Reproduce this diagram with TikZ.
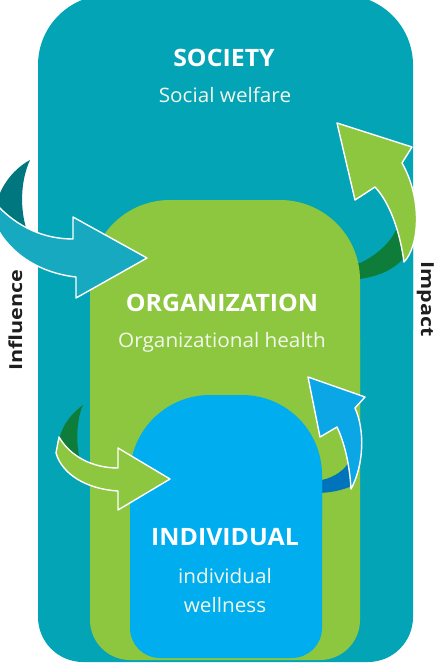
\documentclass[tikz,border=0pt]{standalone}
\usepackage{fontspec}
\setmainfont{Open Sans}
\newfontfamily\titlefont{Open Sans}[FakeStretch=1.04]
\newfontfamily\sidefont{Open Sans}[FakeStretch=1.2]
\definecolor{socc}{HTML}{03A4B6}
\definecolor{orgc}{HTML}{8DC63F}
\definecolor{indc}{HTML}{00ADEE}
\definecolor{arrteal}{HTML}{16A9C0}
\definecolor{darkteal}{HTML}{00767F}
\definecolor{darkgreen}{HTML}{0E7D3A}
\definecolor{arrblue}{HTML}{0AA6E6}
\definecolor{darkblue}{HTML}{0074BA}
\definecolor{labelc}{HTML}{1E1E1E}
\definecolor{subc}{HTML}{F2F8EC}
\tikzset{
  title/.style={font=\titlefont\bfseries\fontsize{24}{28}\selectfont, text=white, anchor=base, inner sep=0pt},
  subt/.style={font=\titlefont\fontsize{20}{24}\selectfont, text=subc, anchor=base, inner sep=0pt},
  side/.style={font=\sidefont\bfseries\fontsize{18}{20}\selectfont, text=labelc, anchor=base, inner sep=0pt},
  outl/.style={draw=white, line width=1.4bp, line join=round}
}
\begin{document}
\begin{tikzpicture}[x=1bp,y=-1bp]
\useasboundingbox (0,0) rectangle (436,666);
\begin{scope}
\clip (0,0) rectangle (436,666);
% society box
\fill[socc, rounded corners=70bp] (38,-5) rectangle (413,400);
\fill[socc, rounded corners=45bp] (38,200) rectangle (413,662);
% crescent of arrow 2 (behind organization)
\fill[darkgreen] (350,264) -- (360,263) .. controls (375,256) and (390,244) .. (397,228)
  -- (404,258) .. controls (392,271) and (376,278) .. (350,280) -- cycle;
% organization box
\fill[orgc, rounded corners=80bp] (90,200) rectangle (360,500);
\fill[orgc, rounded corners=40bp] (90,300) rectangle (360,660);
% crescent of arrow 4 (behind individual)
\fill[darkblue] (315,480) -- (322,480) .. controls (335,477) and (345,470) .. (350,460)
  -- (352,486) .. controls (342,490) and (332,493) .. (315,493) -- cycle;
% individual box
\fill[indc, rounded corners=80bp] (130,395) rectangle (322,600);
\fill[indc, rounded corners=30bp] (130,450) rectangle (322,658);
% arrow 1 (influence, society -> organization)
\fill[darkteal] (30,160) .. controls (15,168) and (0,185) .. (-4,206)
  -- (27,231) .. controls (20,210) and (20,182) .. (30,160) -- cycle;
\filldraw[arrteal, outl] (-4,204) .. controls (18,228) and (45,239) .. (73,239)
  -- (73,217) -- (147,258) -- (76,298) -- (76,277)
  .. controls (40,273) and (10,254) .. (-4,226) -- cycle;
% arrow 3 (influence, organization -> individual)
\fill[darkgreen] (83,405) .. controls (72,413) and (62,425) .. (59,440)
  -- (80,460) .. controls (76,445) and (76,420) .. (83,405) -- cycle;
\filldraw[orgc, outl] (59,437) .. controls (70,456) and (92,468) .. (118,468)
  -- (118,448) -- (170,479) -- (118,510) -- (118,491)
  .. controls (86,489) and (62,474) .. (56,453) -- cycle;
% arrow 2 (impact, organization -> society)
\filldraw[orgc, outl] (404,262) .. controls (420,245) and (422,198) .. (402,163)
  -- (412,147) -- (337,123) -- (355,200) -- (375,187)
  .. controls (390,203) and (400,232) .. (404,262) -- cycle;
% arrow 4 (impact, individual -> organization)
\filldraw[arrblue, outl] (351,489) .. controls (364,465) and (365,430) .. (355,408)
  -- (365,397) -- (308,377) -- (320,437) -- (337,427)
  .. controls (346,446) and (350,470) .. (351,489) -- cycle;
\end{scope}
% texts
\node[title] (soc) at (224,67) {SOCIETY};
\node[subt] (socw) at (225,103) {Social welfare};
\node[title] (org) at (222,311) {ORGANIZATION};
\node[subt] (orgh) at (222,347) {Organizational health};
\node[title] (ind) at (225,545) {INDIVIDUAL};
\node[subt] (ind1) at (225,583) {individual};
\node[subt] (ind2) at (225,612) {wellness};
\node[side, rotate=90] (infl) at (22,320) {Influence};
\node[side, rotate=-90] (imp) at (421,299) {Impact};
\end{tikzpicture}
\end{document}
